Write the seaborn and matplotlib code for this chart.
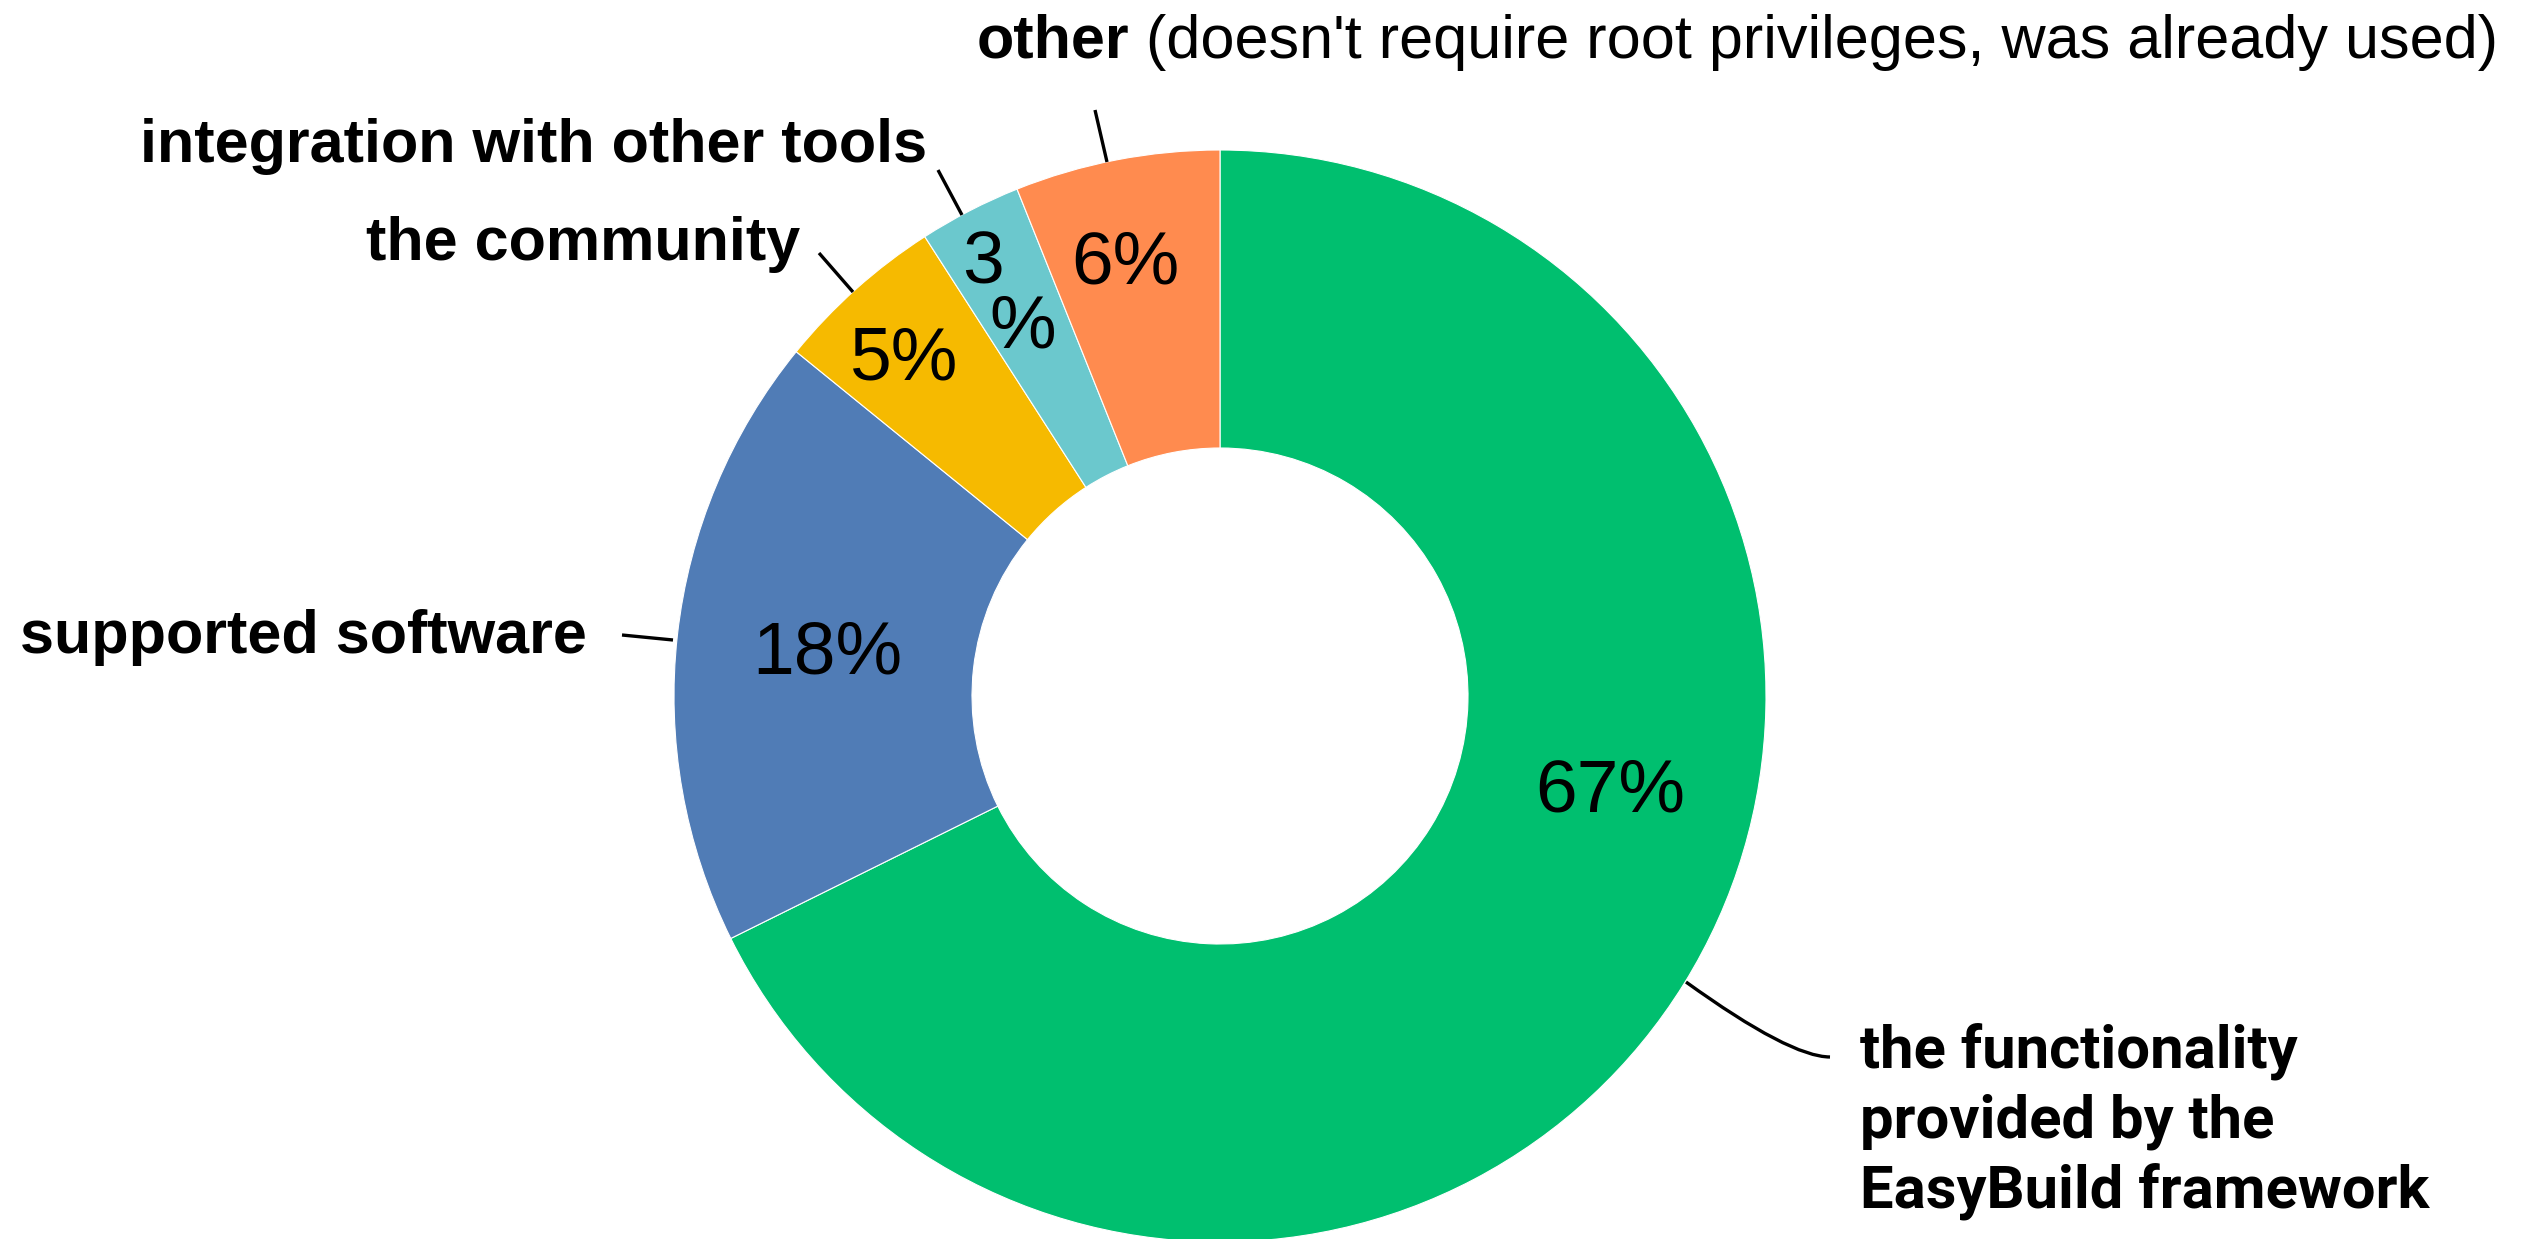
import matplotlib
matplotlib.use("Agg")
import matplotlib.pyplot as plt
from matplotlib.path import Path
from matplotlib.patches import PathPatch
import seaborn as sns

# ---- data -------------------------------------------------------------
categories = [
    "the functionality provided by the EasyBuild framework",
    "supported software",
    "the community",
    "integration with other tools",
    "other",
]
shares = [67, 18, 5, 3, 6]
slice_colors = ["#00BF6F", "#507CB6", "#F6BA00", "#6BC8CD", "#FF8B4F"]

functionality_lines = ["the functionality", "provided by the", "EasyBuild framework"]
other_head = "other"
other_note = "(doesn't require root privileges, was already used)"

# ---- canvas (1 data unit == 1 output pixel, y measured upwards) -------
W, H = 2534, 1239
sns.set_theme(style="white")
plt.rcParams["font.family"] = ["Liberation Sans", "DejaVu Sans"]

fig = plt.figure(figsize=(W / 100, H / 100), dpi=100)
fig.patch.set_facecolor("white")
ax = fig.add_axes([0, 0, 1, 1])


def Y(y_from_top):
    return H - y_from_top


cx, cy = 1220, Y(696)
r_out = 546
ring = 298

ax.pie(
    shares,
    colors=slice_colors,
    startangle=90,
    counterclock=False,
    radius=r_out,
    center=(cx, cy),
    wedgeprops=dict(width=ring, edgecolor="white", linewidth=0.8),
)
ax.set_xlim(0, W)
ax.set_ylim(0, H)
ax.set_aspect("auto")
ax.axis("off")

# ---- value labels inside the ring ------------------------------------
pct_style = dict(fontsize=54, color="black", ha="center", va="baseline")
pct_anchor = {0: (1610, 812), 1: (827, 673), 2: (904, 380), 4: (1125, 283)}
for i, v in enumerate(shares):
    if i in pct_anchor:
        x, y = pct_anchor[i]
        ax.text(x, Y(y), f"{v}%", **pct_style)
# the narrow teal slice wraps its label over two lines
ax.text(983, Y(283), f"{shares[3]}", **pct_style)
ax.text(1023, Y(348), "%", **pct_style)

# ---- category labels with leader lines --------------------------------
lab_style = dict(fontsize=44, fontweight="bold", color="black", va="baseline")
ax.text(587, Y(653), categories[1], ha="right", **lab_style)
ax.text(800, Y(260), categories[2], ha="right", **lab_style)
ax.text(927, Y(162), categories[3], ha="right", **lab_style)

t_head = ax.text(977, Y(58), other_head, ha="left", **lab_style)
fig.canvas.draw()
bb = t_head.get_window_extent()
ax.text(bb.x1 + 16, Y(58), other_note, ha="left", va="baseline",
        fontsize=44, color="black")

leaders = [
    [(622, 635), (673, 640)],
    [(819, 253), (853, 292)],
    [(938, 170), (962, 215)],
    [(1095, 110), (1107, 162)],
]
for seg in leaders:
    xs = [p[0] for p in seg]
    ys = [Y(p[1]) for p in seg]
    ax.plot(xs, ys, color="black", lw=2.4, solid_capstyle="butt")

# curved leader for the large slice
curve = Path(
    [(1686, Y(982)), (1790, Y(1057)), (1830, Y(1057))],
    [Path.MOVETO, Path.CURVE3, Path.CURVE3],
)
ax.add_patch(PathPatch(curve, facecolor="none", edgecolor="black", lw=2.4))

for line, base in zip(functionality_lines, [1068, 1138, 1208]):
    ax.text(1860, Y(base), line, ha="left", va="baseline", fontsize=43,
            fontweight="bold", family=["Roboto", "DejaVu Sans"], color="black")

fig.savefig("out.png", dpi=100)
